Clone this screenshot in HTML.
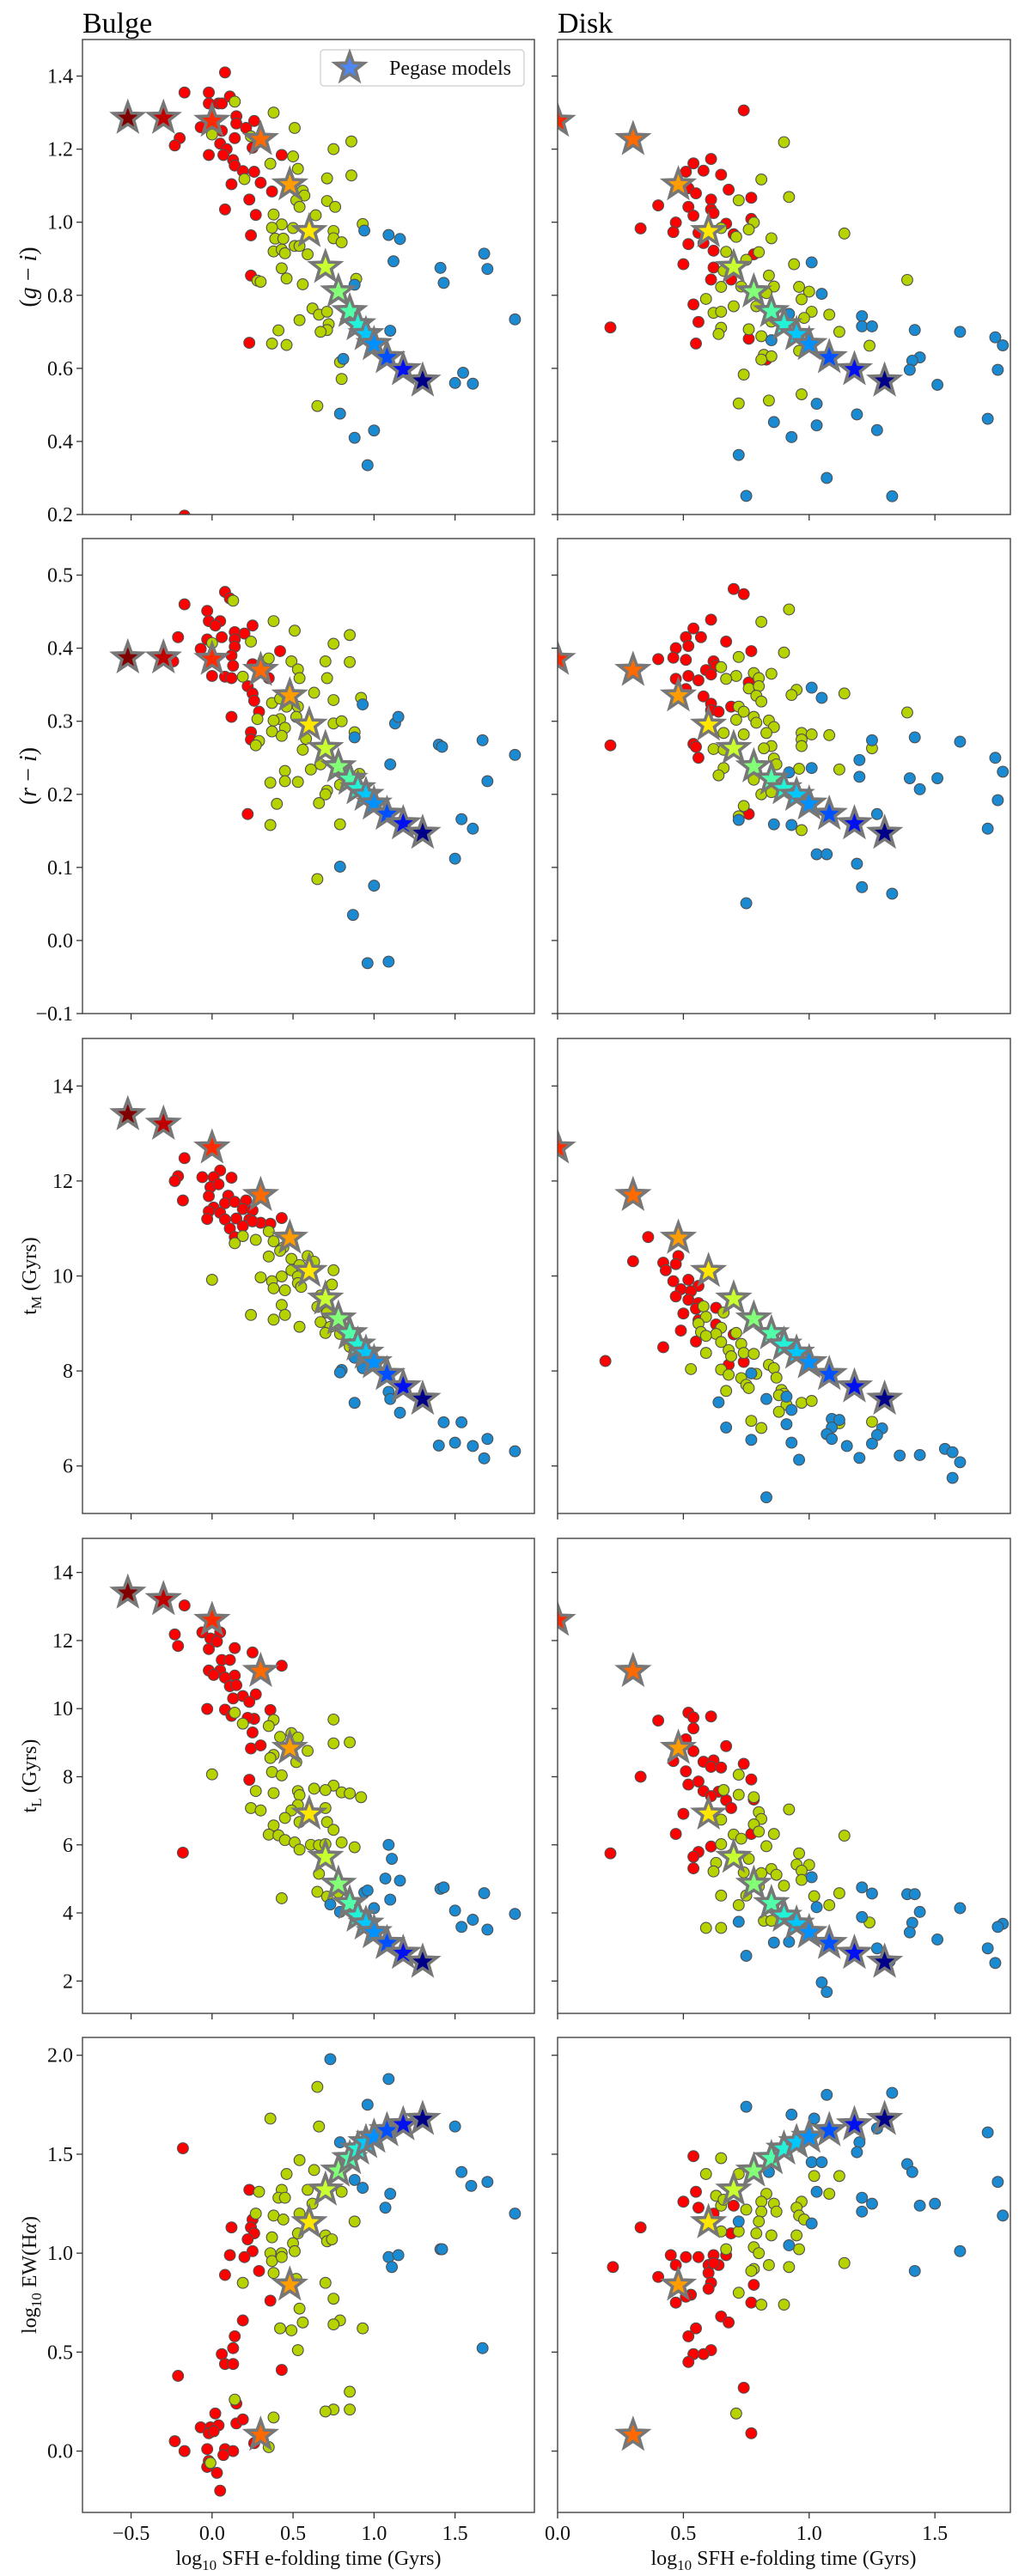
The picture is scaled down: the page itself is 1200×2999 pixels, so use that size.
<!DOCTYPE html>
<html><head><meta charset="utf-8"><title>Bulge / Disk SFH e-folding time</title>
<style>
html,body{margin:0;padding:0;background:#fff;}
svg{display:block;font-family:"Liberation Serif","DejaVu Serif",serif;}
</style></head>
<body>
<svg id="fig" xmlns="http://www.w3.org/2000/svg" width="1200" height="2999" viewBox="0 0 1200 2999">
<rect width="1200" height="2999" fill="#fff"/>
<text x="96" y="38" font-size="34">Bulge</text>
<text x="649" y="38" font-size="34">Disk</text>
</svg>
<script>
// ---- Pegase model stars (shared by both columns) ----
const starX  = [-0.52,-0.3,0.0,0.3,0.48,0.6,0.7,0.78,0.85,0.9,0.95,1.0,1.08,1.18,1.3];
const starGI = [1.285,1.285,1.277,1.227,1.103,0.975,0.877,0.81,0.756,0.72,0.693,0.666,0.63,0.597,0.566];
const starRI = [0.387,0.387,0.385,0.37,0.335,0.295,0.263,0.238,0.221,0.208,0.199,0.187,0.173,0.16,0.147];
const starTM = [13.4,13.2,12.7,11.7,10.8,10.1,9.52,9.1,8.79,8.55,8.38,8.18,7.93,7.67,7.41];
const starTL = [13.4,13.21,12.6,11.1,8.84,6.91,5.64,4.85,4.28,3.91,3.68,3.43,3.11,2.82,2.56];
const starEW = [-0.7,-0.6,-0.45,0.081,0.84,1.155,1.32,1.416,1.479,1.527,1.56,1.587,1.62,1.65,1.677];
const starColors = ['#800000','#c00000','#ff2a00','#ff6a00','#ff9c00','#ffe600','#c8ff30','#84ff78','#50ffa8','#22f2d8','#00c8ff','#0090ff','#0050ff','#0010f0','#000088'];

// ---- Row 1 (g-i) ----
const bulgeGIred = [[0.08,1.41],[-0.17,1.355],[-0.02,1.355],[0.11,1.344],[-0.02,1.325],[0.04,1.325],[0.06,1.325],[0.15,1.29],[0.15,1.27],[0.26,1.277],[-0.07,1.26],[0.06,1.25],[0.21,1.258],[-0.2,1.23],[-0.23,1.21],[0.14,1.23],[0.05,1.215],[0.09,1.2],[0.25,1.204],[-0.02,1.184],[0.07,1.184],[0.43,1.184],[0.13,1.17],[0.14,1.155],[0.19,1.14],[0.26,1.138],[0.12,1.104],[0.3,1.108],[0.37,1.084],[0.23,1.062],[0.08,1.035],[0.27,1.02],[0.24,0.964],[0.24,0.854],[0.23,0.67],[-0.17,0.197]];
const bulgeGIyg = [[0.14,1.33],[0.38,1.3],[0.51,1.258],[0,1.24],[0.24,1.235],[0.86,1.221],[0.75,1.2],[0.5,1.18],[0.36,1.16],[0.53,1.146],[0.86,1.128],[0.2,1.118],[0.71,1.12],[0.56,1.086],[0.57,1.073],[0.52,1.06],[0.71,1.058],[0.54,1.042],[0.76,1.042],[0.38,1.021],[0.64,1.019],[0.93,0.995],[0.43,0.994],[0.37,0.985],[0.5,0.984],[0.75,0.976],[0.75,0.956],[0.39,0.955],[0.44,0.955],[0.8,0.945],[0.51,0.935],[0.54,0.935],[0.38,0.92],[0.43,0.925],[0.45,0.915],[0.59,0.912],[0.43,0.874],[0.46,0.846],[0.28,0.84],[0.3,0.837],[0.89,0.845],[0.56,0.83],[0.62,0.764],[0.66,0.747],[0.71,0.755],[0.54,0.732],[0.72,0.721],[0.71,0.705],[0.67,0.7],[0.41,0.704],[0.37,0.668],[0.46,0.664],[0.79,0.617],[0.8,0.571],[0.65,0.497]];
const bulgeGIblue = [[0.94,0.977],[1.09,0.965],[1.16,0.954],[1.12,0.893],[1.68,0.914],[1.7,0.872],[1.41,0.875],[1.43,0.834],[1.87,0.734],[0.88,0.829],[1.1,0.703],[0.81,0.626],[1.55,0.588],[1.5,0.56],[1.61,0.558],[0.79,0.476],[0.88,0.41],[1.0,0.43],[0.96,0.335]];
const diskGIred = [[0.74,1.306],[0.61,1.173],[0.54,1.161],[0.51,1.138],[0.58,1.141],[0.65,1.13],[0.68,1.089],[0.52,1.093],[0.55,1.079],[0.77,1.067],[0.61,1.062],[0.4,1.046],[0.52,1.042],[0.61,1.035],[0.62,1.025],[0.54,1.018],[0.77,1.009],[0.47,0.999],[0.67,0.996],[0.33,0.983],[0.46,0.973],[0.56,0.971],[0.7,0.967],[0.52,0.94],[0.58,0.943],[0.62,0.922],[0.78,0.912],[0.5,0.885],[0.62,0.876],[0.61,0.843],[0.69,0.843],[0.54,0.775],[0.56,0.727],[0.76,0.681],[0.55,0.668],[0.21,0.712],[0.83,0.624]];
const diskGIyg = [[0.9,1.219],[0.81,1.117],[0.92,1.069],[0.72,1.06],[0.78,0.999],[0.76,0.98],[0.71,0.96],[0.65,0.984],[0.85,0.956],[1.14,0.969],[0.67,0.919],[0.8,0.918],[0.75,0.897],[0.94,0.885],[0.66,0.867],[0.84,0.854],[0.86,0.824],[0.65,0.823],[0.73,0.824],[0.96,0.823],[1.0,0.81],[0.83,0.806],[0.97,0.789],[0.59,0.79],[0.79,0.77],[0.7,0.77],[1.39,0.842],[0.62,0.752],[0.65,0.755],[1.01,0.755],[1.08,0.747],[0.98,0.738],[0.85,0.728],[0.65,0.711],[0.64,0.694],[0.76,0.707],[1.12,0.7],[0.81,0.688],[1.24,0.662],[0.96,0.648],[0.82,0.637],[0.85,0.633],[0.81,0.624],[0.74,0.583],[0.97,0.529],[0.84,0.512],[0.72,0.504]];
const diskGIblue = [[1.01,0.89],[1.05,0.804],[0.92,0.749],[1.21,0.743],[1.21,0.715],[1.25,0.715],[1.42,0.705],[1.6,0.7],[1.74,0.685],[1.77,0.663],[1.44,0.63],[1.41,0.621],[1.4,0.596],[1.75,0.596],[0.85,0.677],[1.51,0.555],[1.03,0.503],[1.19,0.474],[0.86,0.453],[1.03,0.444],[1.27,0.431],[0.93,0.412],[1.71,0.462],[0.72,0.363],[1.07,0.3],[0.75,0.251],[1.33,0.25]];

// ---- Row 2 (r-i) ----
const bulgeRIred = [[0.08,0.477],[0.11,0.468],[-0.17,0.46],[-0.03,0.451],[-0.02,0.437],[0.05,0.437],[0.02,0.431],[0.25,0.431],[0.14,0.422],[0.2,0.42],[-0.21,0.415],[0.06,0.415],[-0.03,0.412],[0.14,0.412],[0.14,0.402],[0.42,0.396],[-0.07,0.399],[-0.01,0.386],[0.12,0.39],[-0.24,0.382],[0.25,0.378],[0.13,0.376],[0.35,0.359],[0.0,0.362],[0.08,0.361],[0.12,0.359],[0.22,0.348],[0.25,0.338],[0.26,0.328],[0.29,0.313],[0.12,0.306],[0.24,0.285],[0.24,0.275],[0.22,0.173]];
const bulgeRIyg = [[0.13,0.465],[0.38,0.437],[0.51,0.424],[0.85,0.418],[0.75,0.406],[0.24,0.409],[0,0.407],[0.35,0.386],[0.49,0.382],[0.7,0.382],[0.85,0.381],[0.53,0.371],[0.54,0.359],[0.71,0.359],[0.19,0.361],[0.63,0.339],[0.92,0.332],[0.75,0.329],[0.37,0.325],[0.42,0.331],[0.46,0.32],[0.53,0.32],[0.28,0.303],[0.42,0.303],[0.52,0.306],[0.38,0.301],[0.75,0.297],[0.8,0.3],[0.45,0.291],[0.37,0.286],[0.43,0.28],[0.58,0.276],[0.88,0.285],[0.29,0.273],[0.27,0.267],[0.56,0.261],[0.61,0.234],[0.45,0.232],[0.67,0.241],[0.36,0.216],[0.45,0.218],[0.53,0.217],[0.71,0.205],[0.7,0.2],[0.79,0.213],[0.4,0.187],[0.66,0.188],[0.79,0.159],[0.36,0.158],[0.65,0.084],[0.91,0.228]];
const bulgeRIblue = [[0.93,0.323],[1.13,0.297],[1.15,0.306],[0.88,0.278],[1.4,0.268],[1.42,0.265],[1.67,0.274],[1.87,0.254],[1.1,0.241],[1.7,0.218],[1.54,0.166],[1.61,0.153],[1.5,0.112],[0.79,0.101],[1.0,0.075],[0.87,0.035],[0.96,-0.031],[1.09,-0.029]];
const diskRIred = [[0.7,0.481],[0.74,0.474],[0.61,0.439],[0.54,0.427],[0.57,0.415],[0.51,0.415],[0.47,0.4],[0.52,0.403],[0.67,0.409],[0.77,0.396],[0.4,0.385],[0.46,0.387],[0.51,0.384],[0.62,0.382],[0.63,0.376],[0.59,0.37],[0.61,0.364],[0.52,0.362],[0.47,0.358],[0.56,0.356],[0.76,0.353],[0.51,0.344],[0.58,0.334],[0.61,0.324],[0.69,0.32],[0.61,0.315],[0.64,0.313],[0.54,0.269],[0.55,0.265],[0.56,0.25],[0.21,0.267],[0.76,0.173]];
const diskRIyg = [[0.92,0.453],[0.81,0.436],[0.9,0.394],[0.72,0.388],[0.65,0.374],[0.71,0.362],[0.67,0.358],[0.78,0.366],[0.85,0.365],[0.8,0.359],[0.76,0.345],[0.8,0.348],[0.79,0.335],[0.81,0.327],[0.95,0.343],[0.93,0.336],[1.14,0.338],[0.72,0.32],[0.74,0.313],[0.78,0.306],[0.71,0.302],[0.79,0.298],[0.84,0.301],[0.86,0.292],[0.74,0.282],[0.66,0.284],[0.83,0.284],[0.97,0.284],[1.01,0.282],[1.08,0.281],[0.97,0.275],[0.85,0.266],[0.82,0.263],[0.97,0.266],[0.62,0.262],[0.66,0.261],[0.86,0.249],[0.87,0.241],[0.66,0.236],[0.96,0.235],[1.12,0.234],[0.64,0.226],[0.78,0.22],[0.81,0.2],[0.85,0.203],[0.74,0.184],[0.72,0.17],[0.97,0.151],[1.39,0.312],[1.25,0.263]];
const diskRIblue = [[1.01,0.346],[1.05,0.332],[1.25,0.274],[1.42,0.278],[1.6,0.272],[1.2,0.247],[1.74,0.25],[1.77,0.231],[0.92,0.23],[1.01,0.236],[1.2,0.224],[1.4,0.222],[1.51,0.222],[1.44,0.207],[1.75,0.192],[1.71,0.153],[1.27,0.173],[0.72,0.165],[0.86,0.159],[0.93,0.158],[1.03,0.118],[1.07,0.118],[1.19,0.105],[1.21,0.073],[1.33,0.064],[0.75,0.051]];

// ---- Row 3 (t_M) ----
const bulgeTMred = [[-0.17,12.48],[-0.21,12.1],[-0.23,12.0],[-0.18,11.59],[-0.06,12.08],[0.05,12.22],[0.01,12.08],[0.12,12.07],[-0.01,11.87],[0.04,11.93],[0.1,11.69],[-0.02,11.68],[0.08,11.53],[0.14,11.56],[0.21,11.59],[0.01,11.44],[-0.02,11.36],[0.05,11.33],[0.19,11.41],[0.25,11.38],[-0.03,11.2],[0.08,11.19],[0.15,11.21],[0.23,11.19],[0.3,11.12],[0.36,11.1],[0.43,11.22],[0.19,11.05],[0.11,11.0],[0.14,10.82],[0.25,11.15]];
const bulgeTMyg = [[0.35,10.94],[0.19,10.84],[0.27,10.76],[0.14,10.69],[0.38,10.73],[0.44,10.6],[0.42,10.53],[0.35,10.41],[0.59,10.42],[0.49,10.36],[0.54,10.23],[0.63,10.3],[0.75,10.12],[0.49,10.12],[0,9.92],[0.3,9.97],[0.43,9.99],[0.53,9.99],[0.37,9.89],[0.53,9.85],[0.74,9.82],[0.38,9.74],[0.45,9.7],[0.55,9.77],[0.67,9.59],[0.43,9.39],[0.65,9.35],[0.24,9.18],[0.45,9.18],[0.38,9.08],[0.54,8.93],[0.67,9.03],[0.71,9.23],[0.73,8.93],[0.7,8.8],[0.79,8.78],[0.85,8.51],[0.88,8.41]];
const bulgeTMblue = [[0.88,8.28],[0.93,8.06],[0.8,8.02],[0.79,7.97],[1.09,7.56],[1.1,7.41],[0.88,7.33],[1.16,7.12],[1.43,6.92],[1.54,6.92],[1.4,6.43],[1.5,6.49],[1.61,6.42],[1.7,6.57],[1.68,6.16],[1.87,6.31]];
const diskTMred = [[0.36,10.82],[0.3,10.31],[0.48,10.42],[0.42,10.28],[0.47,10.25],[0.43,10.12],[0.46,9.89],[0.52,9.92],[0.56,9.79],[0.49,9.72],[0.53,9.68],[0.47,9.57],[0.52,9.5],[0.56,9.43],[0.63,9.33],[0.5,9.21],[0.55,9.31],[0.63,8.98],[0.56,9.07],[0.49,8.85],[0.7,8.77],[0.55,8.62],[0.42,8.5],[0.74,8.19],[0.68,8.13],[0.19,8.21]];
const diskTMyg = [[0.58,9.36],[0.66,9.23],[0.59,9.14],[0.56,9.0],[0.65,8.91],[0.57,8.82],[0.63,8.78],[0.59,8.74],[0.71,8.8],[0.65,8.61],[0.73,8.57],[0.68,8.44],[0.74,8.38],[0.78,8.36],[0.69,8.31],[0.59,8.38],[0.84,8.13],[0.65,8.03],[0.86,8.06],[0.53,8.04],[0.68,7.92],[0.73,7.85],[0.79,7.94],[0.75,7.71],[0.87,7.86],[0.76,7.64],[0.67,7.58],[0.89,7.6],[0.9,7.52],[0.88,7.49],[0.91,7.29],[0.97,7.33],[1.01,7.37],[0.88,7.14],[0.77,6.95],[0.81,6.8],[1.12,6.9],[1.25,6.93]];
const diskTMblue = [[0.77,7.95],[0.83,7.41],[0.91,7.46],[0.64,7.34],[0.93,7.18],[1.09,6.99],[1.12,6.97],[0.91,6.88],[0.67,6.81],[1.09,6.81],[1.29,6.79],[1.07,6.67],[1.27,6.65],[1.09,6.57],[0.77,6.55],[0.93,6.49],[1.25,6.47],[1.15,6.42],[1.54,6.36],[1.57,6.29],[1.36,6.22],[1.44,6.23],[1.2,6.17],[0.96,6.13],[1.6,6.08],[1.57,5.75],[0.83,5.34]];

// ---- Row 4 (t_L) ----
const bulgeTLred = [[-0.17,13.03],[-0.23,12.18],[-0.21,11.84],[-0.06,12.24],[0.05,12.24],[-0.01,12.06],[0.03,11.97],[-0.02,11.75],[0.14,11.78],[0.25,11.65],[0.06,11.43],[0.11,11.43],[0.43,11.26],[-0.02,11.12],[0.05,11.12],[0.14,10.97],[0.01,10.99],[0.08,10.91],[0.11,10.66],[0.15,10.69],[0.27,10.42],[0.19,10.37],[0.13,10.3],[0.23,10.2],[-0.03,9.99],[0.08,9.97],[0.36,9.96],[0.12,9.79],[0.26,9.7],[0.22,9.73],[0.25,9.3],[0.24,8.83],[0.3,8.92],[0.23,7.91],[-0.18,5.77]];
const bulgeTLyg = [[0.14,9.88],[0.19,9.56],[0.38,9.67],[0.35,9.49],[0.75,9.68],[0.49,9.28],[0.42,9.17],[0.53,9.15],[0.75,8.98],[0.85,9.01],[0.59,8.76],[0.38,8.64],[0.36,8.55],[0.52,8.43],[0.37,8.14],[0.43,8.04],[0,8.07],[0.53,7.58],[0.63,7.65],[0.75,7.74],[0.7,7.61],[0.8,7.54],[0.85,7.51],[0.92,7.4],[0.27,7.58],[0.38,7.52],[0.54,7.46],[0.53,7.17],[0.7,7.08],[0.24,7.08],[0.3,7.01],[0.49,7.01],[0.45,6.79],[0.54,6.67],[0.71,6.67],[0.75,6.44],[0.38,6.57],[0.35,6.3],[0.41,6.28],[0.45,6.14],[0.51,6.07],[0.61,6.0],[0.66,5.99],[0.7,6.02],[0.8,6.07],[0.54,5.86],[0.88,5.93],[0.66,5.15],[0.65,4.62],[0.71,4.48],[0.43,4.43],[0.78,4.6]];
const bulgeTLblue = [[1.09,6.0],[1.11,5.59],[1.07,5.01],[1.16,4.95],[0.94,4.6],[0.96,4.66],[1.1,4.39],[1.41,4.71],[1.43,4.75],[1.68,4.58],[0.73,4.25],[1.0,4.14],[0.79,4.03],[1.5,4.07],[1.87,3.97],[1.61,3.8],[1.54,3.59],[1.7,3.51],[0.95,3.89]];
const diskTLred = [[0.52,9.88],[0.54,9.74],[0.61,9.77],[0.4,9.65],[0.54,9.42],[0.51,9.1],[0.67,8.9],[0.54,8.75],[0.46,8.46],[0.58,8.44],[0.62,8.48],[0.74,8.38],[0.61,8.29],[0.65,8.27],[0.51,8.16],[0.33,8.0],[0.77,7.92],[0.56,7.86],[0.52,7.77],[0.58,7.58],[0.64,7.56],[0.61,7.43],[0.78,7.33],[0.67,7.31],[0.69,7.08],[0.5,6.91],[0.47,6.32],[0.77,6.32],[0.61,5.95],[0.56,5.79],[0.54,5.65],[0.54,5.31],[0.21,5.75]];
const diskTLyg = [[0.72,8.06],[0.66,7.61],[0.72,7.47],[0.78,7.4],[0.92,7.04],[0.65,6.74],[0.8,6.96],[0.81,6.76],[0.78,6.6],[0.8,6.39],[0.7,6.3],[0.86,6.32],[0.73,6.18],[1.14,6.27],[0.65,6.02],[0.83,5.96],[0.96,5.75],[0.69,5.7],[0.76,5.59],[0.95,5.42],[1.0,5.41],[0.63,5.47],[0.62,5.22],[0.85,5.29],[0.97,5.24],[0.74,5.19],[0.81,5.17],[0.87,5.12],[0.97,4.97],[0.9,4.8],[0.8,4.78],[1.02,4.49],[0.65,4.51],[0.75,4.51],[1.12,4.58],[0.72,4.23],[1.08,4.23],[1.24,3.72],[0.82,3.77],[0.85,3.77],[0.59,3.56],[0.65,3.56]];
const diskTLblue = [[1.01,5.05],[1.21,4.75],[1.25,4.57],[1.39,4.55],[1.42,4.55],[1.03,4.17],[1.6,4.14],[1.44,4.03],[1.21,3.88],[0.72,3.74],[1.41,3.71],[1.77,3.68],[1.75,3.59],[1.4,3.43],[1.51,3.22],[0.86,3.13],[0.92,3.15],[1.27,2.96],[1.71,2.96],[1.32,2.58],[1.74,2.53],[0.75,2.74],[1.05,1.96],[1.07,1.68]];

// ---- Row 5 (log10 EW(Halpha)) ----
const bulgeEWred = [[-0.18,1.53],[0.23,1.32],[0.25,1.17],[0.24,1.13],[0.12,1.13],[0.26,1.1],[0.22,1.07],[0.25,1.01],[0.11,0.99],[0.2,0.98],[0.29,0.91],[0.08,0.89],[0.36,0.76],[0.19,0.66],[0.14,0.58],[0.13,0.52],[0.06,0.49],[0.08,0.44],[0.13,0.44],[0.43,0.41],[-0.21,0.38],[0.15,0.24],[0.02,0.19],[-0.07,0.12],[-0.01,0.12],[0.04,0.13],[0.15,0.14],[0.19,0.16],[-0.02,0.09],[0.01,0.1],[-0.23,0.05],[-0.17,0.0],[-0.03,0.01],[0.08,0.01],[0.13,0.0],[0.26,0.04],[-0.02,-0.05],[0.07,-0.02],[-0.03,-0.08],[0.03,-0.11],[0.05,-0.2]];
const bulgeEWyg = [[0.65,1.84],[0.36,1.68],[0.66,1.64],[0.54,1.47],[0.63,1.42],[0.46,1.4],[0.29,1.31],[0.59,1.32],[0.43,1.32],[0.41,1.28],[0.45,1.28],[0.8,1.31],[0.62,1.25],[0.27,1.2],[0.38,1.19],[0.54,1.2],[0.44,1.17],[0.88,1.16],[0.53,1.1],[0.7,1.09],[0.37,1.08],[0.71,1.06],[0.74,1.07],[0.5,1.05],[0.51,1.01],[0.36,1.0],[0.43,1.0],[0.37,0.96],[0.43,0.98],[0.38,0.9],[0.52,0.87],[0.7,0.85],[0.19,0.85],[0.54,0.72],[0.75,0.77],[0.56,0.65],[0.79,0.66],[0.75,0.64],[0.93,0.62],[0.42,0.62],[0.49,0.61],[0.53,0.51],[0.14,0.26],[0.85,0.3],[0.75,0.21],[0.7,0.2],[0.85,0.21],[0.38,0.17],[0.35,0.02],[-0.01,-0.06]];
const bulgeEWblue = [[0.73,1.98],[1.09,1.88],[0.96,1.75],[1.5,1.64],[0.79,1.56],[0.88,1.37],[0.93,1.33],[1.1,1.3],[1.07,1.23],[1.87,1.2],[1.54,1.41],[1.6,1.34],[1.7,1.36],[1.41,1.02],[1.42,1.02],[1.09,0.98],[1.15,0.99],[1.11,0.93],[1.67,0.52]];
const diskEWred = [[0.33,1.13],[0.22,0.93],[0.4,0.88],[0.45,0.99],[0.51,0.98],[0.47,0.94],[0.56,0.98],[0.62,0.99],[0.6,0.94],[0.64,0.94],[0.67,0.99],[0.62,0.95],[0.6,0.9],[0.61,0.85],[0.6,0.82],[0.53,0.79],[0.51,0.78],[0.47,0.75],[0.78,0.84],[0.77,0.75],[0.65,0.68],[0.68,0.65],[0.55,0.62],[0.52,0.58],[0.61,0.51],[0.58,0.49],[0.54,0.49],[0.52,0.45],[0.54,1.49],[0.55,1.31],[0.5,1.26],[0.56,1.23],[0.7,1.24],[0.62,1.2],[0.69,1.1],[0.74,0.32],[0.77,0.09]];
const diskEWyg = [[0.65,1.48],[0.59,1.4],[0.72,1.4],[0.63,1.29],[0.65,1.24],[0.66,1.27],[0.83,1.3],[0.81,1.26],[0.86,1.25],[0.75,1.22],[0.81,1.21],[0.87,1.21],[0.97,1.26],[0.95,1.23],[0.96,1.19],[0.98,1.17],[0.8,1.16],[0.65,1.11],[0.72,1.11],[0.79,1.1],[0.85,1.09],[0.95,1.09],[1.02,1.39],[1.08,1.3],[1.12,1.39],[0.78,1.03],[0.67,1.02],[0.8,1.0],[0.96,1.02],[0.78,0.92],[0.84,0.94],[0.92,0.93],[0.77,0.91],[1.14,0.95],[0.72,0.8],[0.81,0.74],[0.9,0.74],[0.71,0.19]];
const diskEWblue = [[0.75,1.74],[0.93,1.7],[1.07,1.8],[1.02,1.68],[1.33,1.81],[1.27,1.63],[1.2,1.56],[1.19,1.51],[1.01,1.46],[1.05,1.46],[0.84,1.41],[1.03,1.31],[1.21,1.28],[1.21,1.21],[1.25,1.25],[1.39,1.45],[1.41,1.41],[1.44,1.24],[1.5,1.25],[1.71,1.61],[1.75,1.36],[1.77,1.19],[1.01,1.15],[0.72,1.16],[0.92,1.04],[1.6,1.01],[1.42,0.91]];

// ---- tick labels ----
const xTicksLeft  = [-0.5,0.0,0.5,1.0,1.5];
const xTicksRight = [0.0,0.5,1.0,1.5];
const yTicksGI = [0.2,0.4,0.6,0.8,1.0,1.2,1.4];
const yTicksRI = [-0.1,0.0,0.1,0.2,0.3,0.4,0.5];
const yTicksTM = [6,8,10,12,14];
const yTicksTL = [2,4,6,8,10,12,14];
const yTicksEW = [0.0,0.5,1.0,1.5,2.0];

// ---- layout / styling ----
const NS = 'http://www.w3.org/2000/svg';
const svg = document.getElementById('fig');
const COL = {red:'#ff0000', yg:'#b6d300', blue:'#1a8ad2'};
const colX = [{x0:96,w:526,xmin:-0.8,xmax:1.99,ticks:xTicksLeft},{x0:649,w:527,xmin:0,xmax:1.8,ticks:xTicksRight}];
const rowTops = [46,627,1209,1791,2372];
const H = 553;
const rows = [
 {key:'gi', ymin:0.2, ymax:1.5, ticks:yTicksGI, dec:1, stars:starGI, L:[bulgeGIred,bulgeGIyg,bulgeGIblue], R:[diskGIred,diskGIyg,diskGIblue]},
 {key:'ri', ymin:-0.1, ymax:0.55, ticks:yTicksRI, dec:1, stars:starRI, L:[bulgeRIred,bulgeRIyg,bulgeRIblue], R:[diskRIred,diskRIyg,diskRIblue]},
 {key:'tm', ymin:5, ymax:15, ticks:yTicksTM, dec:0, stars:starTM, L:[bulgeTMred,bulgeTMyg,bulgeTMblue], R:[diskTMred,diskTMyg,diskTMblue]},
 {key:'tl', ymin:1.05, ymax:15, ticks:yTicksTL, dec:0, stars:starTL, L:[bulgeTLred,bulgeTLyg,bulgeTLblue], R:[diskTLred,diskTLyg,diskTLblue]},
 {key:'ew', ymin:-0.31, ymax:2.09, ticks:yTicksEW, dec:1, stars:starEW, L:[bulgeEWred,bulgeEWyg,bulgeEWblue], R:[diskEWred,diskEWyg,diskEWblue]}
];
const clsNames = ['red','yg','blue'];

function mk(tag, attrs){ const e=document.createElementNS(NS,tag); for(const k in attrs) e.setAttribute(k,attrs[k]); return e; }
function fmt(v,dec){ const s=Math.abs(v).toFixed(dec); return (v<0?'\u2212':'')+s; }
function starPath(cx,cy,ro,ri){ let d=''; for(let k=0;k<10;k++){ const a=(-90+k*36)*Math.PI/180; const r=k%2?ri:ro; d+=(k?'L':'M')+(cx+r*Math.cos(a)).toFixed(2)+','+(cy+r*Math.sin(a)).toFixed(2);} return d+'Z'; }

const defs = mk('defs',{}); svg.appendChild(defs);

rows.forEach((row, ri) => {
  const top = rowTops[ri];
  [0,1].forEach(ci => {
    const c = colX[ci];
    const sx = x => c.x0 + (x - c.xmin)/(c.xmax - c.xmin)*c.w;
    const sy = y => top + H - (y - row.ymin)/(row.ymax - row.ymin)*H;
    const side = ci===0 ? 'bulge' : 'disk';
    const cid = 'clip-'+row.key+'-'+side;
    const cp = mk('clipPath',{id:cid}); cp.appendChild(mk('rect',{x:c.x0,y:top,width:c.w,height:H})); defs.appendChild(cp);
    const g = mk('g',{});
    
    
    svg.appendChild(g);
    const pg = mk('g',{'clip-path':'url(#'+cid+')'});
    
    
    g.appendChild(pg);
    const sets = ci===0 ? row.L : row.R;
    sets.forEach((pts, si) => {
      pts.forEach(p => {
        const el = mk('circle',{cx:sx(p[0]).toFixed(2), cy:sy(p[1]).toFixed(2), r:6.4, fill:COL[clsNames[si]], stroke:'#505050','stroke-width':1.1});
        
        
        pg.appendChild(el);
      });
    });
    starX.forEach((x, k) => {
      const el = mk('path',{d:starPath(sx(x), sy(row.stars[k]), 17.5, 7.2), fill:starColors[k], stroke:'#777777','stroke-width':3.6,'stroke-linejoin':'miter'});
      
      
      pg.appendChild(el);
    });
    const frame = mk('rect',{x:c.x0,y:top,width:c.w,height:H,fill:'none',stroke:'#444','stroke-width':1.4});
    
    
    g.appendChild(frame);
    // y ticks
    row.ticks.forEach(t => {
      const y = sy(t);
      const tk = mk('line',{x1:c.x0-7,y1:y,x2:c.x0,y2:y,stroke:'#333','stroke-width':1.3});
      
      
      g.appendChild(tk);
      if(ci===0){
        const tl = mk('text',{x:c.x0-11,y:y+8,'font-size':24,'text-anchor':'end',fill:'#111'});
        tl.textContent = fmt(t,row.dec);
        
        
        g.appendChild(tl);
      }
    });
    // x ticks
    c.ticks.forEach(t => {
      const x = sx(t);
      const tk = mk('line',{x1:x,y1:top+H,x2:x,y2:top+H+7,stroke:'#333','stroke-width':1.3});
      
      
      g.appendChild(tk);
      if(ri===rows.length-1){
        const tl = mk('text',{x:x,y:top+H+32,'font-size':24,'text-anchor':'middle',fill:'#111'});
        tl.textContent = fmt(t,1);
        
        
        g.appendChild(tl);
      }
    });
  });
});

// y-axis titles
const yTitles = [
  '<tspan>(</tspan><tspan font-style="italic">g</tspan><tspan> \u2212 </tspan><tspan font-style="italic">i</tspan><tspan>)</tspan>',
  '<tspan>(</tspan><tspan font-style="italic">r</tspan><tspan> \u2212 </tspan><tspan font-style="italic">i</tspan><tspan>)</tspan>',
  '<tspan>t</tspan><tspan font-size="17" dy="6">M</tspan><tspan dy="-6"> (Gyrs)</tspan>',
  '<tspan>t</tspan><tspan font-size="17" dy="6">L</tspan><tspan dy="-6"> (Gyrs)</tspan>',
  '<tspan>log</tspan><tspan font-size="17" dy="6">10</tspan><tspan dy="-6"> EW(H</tspan><tspan font-style="italic">\u03b1</tspan><tspan>)</tspan>'
];
const yTitleNames = ['y-axis-title-g-i','y-axis-title-r-i','y-axis-title-tm','y-axis-title-tl','y-axis-title-ew'];
yTitles.forEach((html, i) => {
  const cy = rowTops[i] + H/2;
  const t = mk('text',{x:0,y:0,'font-size':i<2?28:24,'text-anchor':'middle',fill:'#111',transform:'translate(42,'+cy+') rotate(-90)'});
  t.innerHTML = html;
  
  
  svg.appendChild(t);
});
// x-axis titles
[[359,'bulge'],[912,'disk']].forEach(([cx,side]) => {
  const t = mk('text',{x:cx,y:2986,'font-size':24,'text-anchor':'middle',fill:'#111'});
  t.innerHTML = '<tspan>log</tspan><tspan font-size="17" dy="6">10</tspan><tspan dy="-6"> SFH e-folding time (Gyrs)</tspan>';
  
  
  svg.appendChild(t);
});
// legend
const lg = mk('g',{});


svg.appendChild(lg);
const lbox = mk('rect',{x:373,y:58,width:237,height:42,rx:4,fill:'#fff','fill-opacity':0.85,stroke:'#cccccc','stroke-width':1.2});


lg.appendChild(lbox);
const lstar = mk('path',{d:starPath(407,79,17.5,7.2),fill:'#4f86f0',stroke:'#777777','stroke-width':3.6});


lg.appendChild(lstar);
const ltxt = mk('text',{x:453,y:87,'font-size':24,fill:'#111'});
ltxt.textContent = 'Pegase models';


lg.appendChild(ltxt);
</script>
</body></html>
